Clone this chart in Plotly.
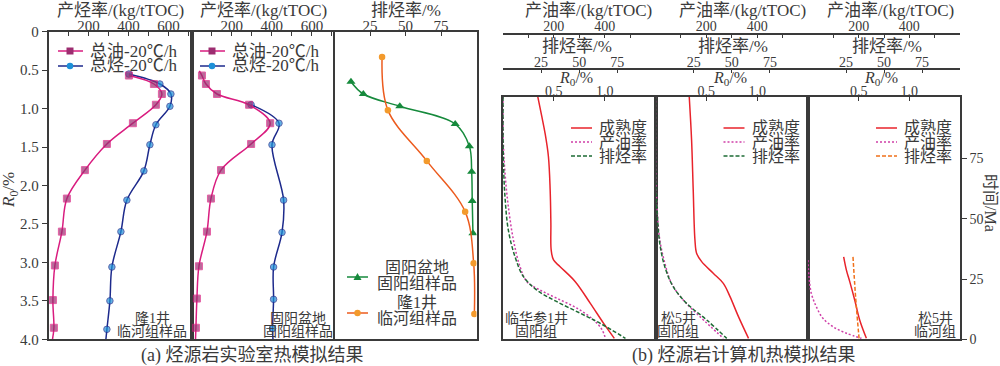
import plotly.graph_objects as go

W, H = 1000, 366
def X(p): return p / W
def Y(p): return 1 - p / H

# ---------------- data: (a) laboratory pyrolysis ----------------
ro_a1_oil = [0.57, 0.68, 0.81, 0.95, 1.19, 1.46, 1.80, 2.17, 2.60, 3.04, 3.49, 3.85, 4.00]
oil_a1    = [402, 527, 567, 537, 422, 292, 182, 92, 67, 32, 22, 27, 20]
ro_a1_hc  = [0.55, 0.68, 0.81, 0.97, 1.21, 1.47, 1.81, 2.19, 2.60, 3.06, 3.50, 3.87, 4.00]
hc_a1     = [402, 557, 612, 607, 537, 507, 477, 392, 362, 317, 307, 292, 287]

ro_a2_oil = [0.51, 0.57, 0.68, 0.81, 0.95, 1.19, 1.46, 1.80, 2.17, 2.60, 3.05, 3.47, 3.85, 4.00]
oil_a2    = [39, 52, 72, 127, 287, 392, 297, 147, 97, 77, 37, 27, 22, 20]
ro_a2_hc  = [0.95, 1.19, 1.47, 2.19, 2.61, 3.06, 3.48, 3.86, 4.00]
hc_a2     = [297, 436, 401, 459, 451, 409, 409, 404, 406]

ro_a3_gy  = [0.65, 0.81, 0.97, 1.20, 1.49, 1.82, 2.20, 2.62]
exp_gy    = [11.6, 20.3, 46, 85, 95, 96.6, 97, 97.5]
ro_a3_l1  = [0.33, 1.02, 1.68, 2.34, 3.01, 3.67]
exp_l1    = [33.5, 37.6, 65, 92, 98, 98.5]

# ---------------- data: (b) basin modelling (time in Ma) ----------------
t_b1_ro  = [100.6, 92.3, 85.4, 75.7, 61.9, 48.1, 37.0, 32.9, 30.1, 23.9, 14.9, 6.6, 0.4]
ro_b1    = [0.342, 0.382, 0.414, 0.447, 0.464, 0.471, 0.474, 0.497, 0.562, 0.711, 0.859, 0.990, 1.095]
t_b1_oil = [100.6, 82.6, 68.8, 55.0, 41.2, 30.1, 23.9, 20.4, 17.0, 12.9, 8.0, 3.9, 0.4]
oil_b1   = [0, 1, 8, 21, 41, 67, 94, 146, 212, 291, 357, 390, 403]
t_b1_exp = [100.6, 75.7, 59.1, 45.3, 34.2, 26.0, 20.4, 15.6, 10.8, 6.6, 0.4]
exp_b1   = [0, 0.2, 1.3, 3.5, 7.9, 13.4, 22.2, 35.3, 50.7, 63.8, 80.3]

t_b2_ro  = [100.6, 82.6, 61.9, 41.2, 35.6, 32.2, 27.4, 23.2, 17.7, 9.4, 0.4]
ro_b2    = [0.332, 0.355, 0.371, 0.388, 0.405, 0.454, 0.568, 0.667, 0.733, 0.816, 0.915]
t_b2_oil = [100.6, 68.8, 55.0, 41.2, 31.5, 23.2, 16.3, 9.4, 0.4]
oil_b2   = [0, 1, 6, 17, 37, 63, 109, 175, 267]
t_b2_exp = [100.6, 64.7, 52.2, 39.8, 30.1, 21.8, 14.9, 8.0, 0.4]
exp_b2   = [0, 0.2, 1.1, 2.8, 6.1, 11.6, 20.4, 33.6, 46.7]

t_b3_ro  = [34.2, 28.7, 23.9, 16.3, 8.0, 0.4]
ro_b3    = [0.352, 0.379, 0.412, 0.461, 0.510, 0.576]
t_b3_oil = [32.9, 26.0, 19.1, 13.5, 8.7, 5.2, 2.5, 0.4]
oil_b3   = [0, 4, 13, 33, 59, 99, 152, 211]
t_b3_exp = [34.2, 23.2, 13.5, 0.4]
exp_b3   = [29.6, 30.7, 31.8, 33.6]

ro_ticks = [0, 0.5, 1.0, 1.5, 2.0, 2.5, 3.0, 3.5, 4.0]
ro_ticktext = ['0', '0.5', '1.0', '1.5', '2.0', '2.5', '3.0', '3.5', '4.0']
time_ticks = [0, 25, 50, 75]
rate_a_labels = [200, 400, 600]
rate_a_minor = [100, 300, 500, 700]
oil_b_labels = [200, 400]
oil_b_minor = [0, 100, 300, 500, 600]
exp_labels = [25, 50, 75]
exp_minor = [0, 100]
ro_b_labels = [0.5, 1.0]

# ---------------- styles ----------------
TXT = '#3a3a3a'
AX = '#3a3a3a'
SERIF = 'Liberation Serif, Noto Sans CJK SC, serif'
MIX = 'Liberation Serif, Noto Sans CJK SC, sans-serif'
OIL_LINE, OIL_MARK = '#d91c7f', '#9c2d70'
HC_LINE, HC_MARK = '#1d2a8c', '#1d90d8'
GREEN = '#168a3c'
OR_LINE, OR_MARK = '#ec5b1e', '#f39a2c'
RED = '#e8232b'
MAG = '#cf3fa8'
DGREEN = '#1d6b34'
ORANGE = '#f0701a'

fig = go.Figure()

def sizes(n, s, first=True, last=True):
    arr = [s] * n
    if not first:
        arr[0] = 0
    if not last:
        arr[-1] = 0
    return arr

# (a) panel 1
fig.add_trace(go.Scatter(x=hc_a1, y=ro_a1_hc, mode='lines+markers', xaxis='x', yaxis='y',
    line=dict(color=HC_LINE, width=1.5, shape='spline', smoothing=1),
    marker=dict(symbol='circle', size=sizes(len(hc_a1), 6.5, last=False), color=HC_MARK)))
fig.add_trace(go.Scatter(x=oil_a1, y=ro_a1_oil, mode='lines+markers', xaxis='x', yaxis='y',
    line=dict(color=OIL_LINE, width=1.5, shape='spline', smoothing=1),
    marker=dict(symbol='square', size=sizes(len(oil_a1), 7, last=False), color=OIL_MARK)))
# (a) panel 2
fig.add_trace(go.Scatter(x=hc_a2, y=ro_a2_hc, mode='lines+markers', xaxis='x2', yaxis='y2',
    line=dict(color=HC_LINE, width=1.5, shape='spline', smoothing=1),
    marker=dict(symbol='circle', size=sizes(len(hc_a2), 6.5, last=False), color=HC_MARK)))
fig.add_trace(go.Scatter(x=oil_a2, y=ro_a2_oil, mode='lines+markers', xaxis='x2', yaxis='y2',
    line=dict(color=OIL_LINE, width=1.5, shape='spline', smoothing=1),
    marker=dict(symbol='square', size=sizes(len(oil_a2), 7, first=False, last=False), color=OIL_MARK)))
# (a) panel 3
fig.add_trace(go.Scatter(x=exp_gy, y=ro_a3_gy, mode='lines+markers', xaxis='x3', yaxis='y3',
    line=dict(color=GREEN, width=1.5, shape='spline', smoothing=1),
    marker=dict(symbol='triangle-up', size=8, color=GREEN)))
fig.add_trace(go.Scatter(x=exp_l1, y=ro_a3_l1, mode='lines+markers', xaxis='x3', yaxis='y3',
    line=dict(color=OR_LINE, width=1.5, shape='spline', smoothing=1),
    marker=dict(symbol='circle', size=6.5, color=OR_MARK)))

# (b) panels
def bl(x, y, xa, ya, color, dash):
    fig.add_trace(go.Scatter(x=x, y=y, mode='lines', xaxis=xa, yaxis=ya,
        line=dict(color=color, width=1.5, dash=dash, shape='spline', smoothing=1)))

bl(ro_b1, t_b1_ro, 'x4', 'y4', RED, 'solid')
bl(oil_b1, t_b1_oil, 'x7', 'y4', MAG, '2px,2px')
bl(exp_b1, t_b1_exp, 'x10', 'y4', DGREEN, '4px,2px')
bl(ro_b2, t_b2_ro, 'x5', 'y5', RED, 'solid')
bl(oil_b2, t_b2_oil, 'x8', 'y5', MAG, '2px,2px')
bl(exp_b2, t_b2_exp, 'x11', 'y5', DGREEN, '4px,2px')
bl(ro_b3, t_b3_ro, 'x6', 'y6', RED, 'solid')
bl(oil_b3, t_b3_oil, 'x9', 'y6', MAG, '2px,2px')
bl(exp_b3, t_b3_exp, 'x12', 'y6', ORANGE, '4px,2px')

# ---------------- axes ----------------
common = dict(showgrid=False, zeroline=False, showline=True, linecolor=AX, linewidth=1.6,
              tickcolor=AX, tickwidth=1.2, automargin=False)
tf15 = dict(family=SERIF, size=15, color=TXT)
tf14 = dict(family=SERIF, size=14, color=TXT)

def minor(vals):
    return dict(tickmode='array', tickvals=vals, ticks='inside', ticklen=4, tickcolor=AX, tickwidth=1.2,
                showgrid=False)

lay = {}
lay['xaxis'] = dict(domain=[X(48.5), X(191.5)], range=[0, 715], side='top', anchor='y', mirror=True,
                    ticks='inside', ticklen=4, tickvals=rate_a_labels, ticktext=[str(v) for v in rate_a_labels],
                    minor=minor(rate_a_minor), tickfont=tf15, ticklabelstandoff=-7, **common)
lay['xaxis2'] = dict(domain=[X(191.5), X(335)], range=[0, 715], side='top', anchor='y2', mirror=True,
                     ticks='inside', ticklen=4, tickvals=rate_a_labels, ticktext=[str(v) for v in rate_a_labels],
                     minor=minor(rate_a_minor), tickfont=tf15, ticklabelstandoff=-7, **common)
lay['xaxis3'] = dict(domain=[X(334.5), X(476.5)], range=[0, 100], side='top', anchor='y3', mirror=True,
                     ticks='inside', ticklen=4, tickvals=exp_labels, ticktext=[str(v) for v in exp_labels],
                     tickfont=tf15, ticklabelstandoff=-7, **common)
ydom_a = [Y(339.3), Y(31.7)]
lay['yaxis'] = dict(domain=ydom_a, range=[4, 0], anchor='x', mirror=True, ticks='outside', ticklen=5,
                    tickvals=ro_ticks, ticktext=ro_ticktext, tickfont=tf15, **common)
lay['yaxis2'] = dict(domain=ydom_a, range=[4, 0], anchor='x2', mirror=True, ticks='',
                     showticklabels=False, **common)
lay['yaxis3'] = dict(domain=ydom_a, range=[4, 0], anchor='x3', mirror=True, ticks='',
                     showticklabels=False, **common)

b_dom = [[X(503), X(655.5)], [X(655.5), X(808)], [X(808), X(960)]]
ydom_b = [Y(339.3), Y(96.7)]
for i, dom in enumerate(b_dom):
    n = 4 + i
    lay['xaxis%d' % n] = dict(domain=dom, range=[0, 1.5], side='top', anchor='y%d' % n, mirror=True,
                              ticks='inside', ticklen=4, tickvals=ro_b_labels,
                              ticktext=['%.1f' % v for v in ro_b_labels], tickfont=tf14,
                              ticklabelstandoff=-7, **common)
    yax = dict(domain=ydom_b, range=[0, 100.6], anchor='x%d' % n, mirror=True, **common)
    if i == 2:
        yax.update(side='right', ticks='outside', ticklen=5, tickvals=time_ticks,
                   ticktext=[str(v) for v in time_ticks], tickfont=tf14)
    else:
        yax.update(ticks='', showticklabels=False)
    lay['yaxis%d' % n] = yax
    lay['xaxis%d' % (7 + i)] = dict(domain=dom, overlaying='x%d' % n, anchor='free', position=Y(33.5),
                                    side='top', range=[0, 600], ticks='inside', ticklen=4,
                                    tickvals=oil_b_labels, ticktext=[str(v) for v in oil_b_labels],
                                    minor=minor(oil_b_minor), tickfont=tf14, ticklabelstandoff=-4, **common)
    lay['xaxis%d' % (10 + i)] = dict(domain=dom, overlaying='x%d' % n, anchor='free', position=Y(68.5),
                                     side='top', range=[0, 100], ticks='inside', ticklen=4,
                                     tickvals=exp_labels, ticktext=[str(v) for v in exp_labels],
                                     minor=minor(exp_minor), tickfont=tf14, ticklabelstandoff=-5, **common)

# ---------------- text ----------------
ann = []
def T(x, y, s, size, xa='center', angle=0, fam=MIX):
    ann.append(dict(x=X(x), y=Y(y), xref='paper', yref='paper', text=s, showarrow=False,
                    xanchor=xa, yanchor='middle', textangle=angle,
                    font=dict(family=fam, size=size, color=TXT)))

T(120, 10, '产烃率/(kg/tTOC)', 17)
T(263, 10, '产烃率/(kg/tTOC)', 17)
T(406, 10, '排烃率/%', 17)
T(10, 190, '<i>R</i><sub>0</sub>/%', 17, angle=-90, fam=SERIF)

for cx in (588, 742, 890):
    T(cx, 10, '产油率/(kg/tTOC)', 17)
for cx in (577, 733, 887):
    T(cx, 46, '排烃率/%', 17)
for cx in (576, 730, 881):
    T(cx, 78, '<i>R</i><sub>0</sub>/%', 16, fam=SERIF)
T(990, 203, '时间/Ma', 16, angle=90)

# legends (a)
for lx in (58, 200):
    T(lx + 30, 51, '总油-20℃/h', 17, xa='left')
    T(lx + 30, 66, '总烃-20℃/h', 17, xa='left')
T(417, 267, '固阳盆地', 16)
T(417, 283, '固阳组样品', 16)
T(417, 302, '隆1井', 16)
T(417, 318, '临河组样品', 16)

# sample labels
T(152, 318, '隆1井', 14)
T(152, 331, '临河组样品', 14)
T(298, 318, '固阳盆地', 14)
T(298, 331, '固阳组样品', 14)
T(536, 318, '临华参1井', 14)
T(536, 331, '固阳组', 14)
T(678, 318, '松5井', 14)
T(678, 331, '固阳组', 14)
T(935, 318, '松5井', 14)
T(935, 331, '临河组', 14)

# legends (b)
for L0 in (503, 655.5, 808):
    T(L0 + 94, 128, '成熟度', 16, xa='left')
    T(L0 + 94, 142, '产油率', 16, xa='left')
    T(L0 + 94, 156, '排烃率', 16, xa='left')

T(252, 355, '(a) 烃源岩实验室热模拟结果', 18)
T(744, 355, '(b) 烃源岩计算机热模拟结果', 18)

# ---------------- legend symbols ----------------
shapes = []
def LN(x0, x1, y, color, dash='solid', w=1.5):
    shapes.append(dict(type='line', xref='paper', yref='paper', x0=X(x0), x1=X(x1), y0=Y(y), y1=Y(y),
                       line=dict(color=color, width=w, dash=dash)))
def SQ(cx, cy, s, color):
    shapes.append(dict(type='rect', xref='paper', yref='paper', x0=X(cx - s / 2), x1=X(cx + s / 2),
                       y0=Y(cy + s / 2), y1=Y(cy - s / 2), fillcolor=color, line=dict(width=0)))
def CI(cx, cy, s, color):
    shapes.append(dict(type='circle', xref='paper', yref='paper', x0=X(cx - s / 2), x1=X(cx + s / 2),
                       y0=Y(cy + s / 2), y1=Y(cy - s / 2), fillcolor=color, line=dict(width=0)))
def TR(cx, cy, s, color):
    p = 'M %f,%f L %f,%f L %f,%f Z' % (X(cx - s / 2), Y(cy + s / 2.6), X(cx + s / 2), Y(cy + s / 2.6),
                                        X(cx), Y(cy - s / 2))
    shapes.append(dict(type='path', xref='paper', yref='paper', path=p, fillcolor=color, line=dict(width=0)))

for lx in (58, 200):
    LN(lx, lx + 25, 51, OIL_LINE)
    SQ(lx + 12, 51, 7, OIL_MARK)
    LN(lx, lx + 25, 66, HC_LINE)
    CI(lx + 12, 66, 6.5, HC_MARK)
LN(347, 368, 277, GREEN)
TR(357.5, 277, 8, GREEN)
LN(347, 368, 313, OR_LINE)
CI(357.5, 313, 6.5, OR_MARK)

for i, L0 in enumerate((503, 655.5, 808)):
    LN(L0 + 68, L0 + 89, 128, RED)
    LN(L0 + 68, L0 + 89, 142, MAG, '2px,2px')
    LN(L0 + 68, L0 + 89, 156, ORANGE if i == 2 else DGREEN, '4px,2px')

fig.update_layout(width=W, height=H, margin=dict(l=0, r=0, t=0, b=0, autoexpand=False), autosize=False,
                  showlegend=False, plot_bgcolor='white', paper_bgcolor='white',
                  annotations=ann, shapes=shapes, **lay)

fig.write_html('out.html', config={'displayModeBar': False},
               post_script="document.body.style.margin='0';document.body.style.overflow='hidden';")
